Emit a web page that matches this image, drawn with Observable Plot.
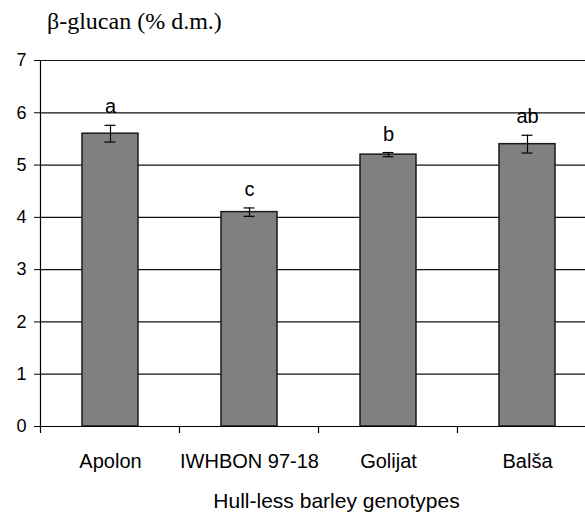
<!DOCTYPE html>
<html><head><meta charset="utf-8">
<script src="https://cdn.jsdelivr.net/npm/d3@7"></script>
<script src="https://cdn.jsdelivr.net/npm/@observablehq/plot@0.6"></script>
<style>
body{margin:0;background:#fff;}
#wrap{position:relative;width:585px;height:512px;overflow:hidden;}
#title{height:40px;position:relative;}
#title span{position:absolute;left:47px;top:9px;font-family:"Liberation Serif","Times New Roman",serif;font-size:24px;line-height:24px;white-space:nowrap;color:#000;}
svg{display:block;}
</style></head>
<body><div id="wrap"><div id="title"><span id="ytitle"></span></div><div id="chart"></div></div>
<script>
const genotypes = ["Apolon", "IWHBON 97-18", "Golijat", "Balša"];
const means = [5.6, 4.1, 5.2, 5.4];
const errors = [0.16, 0.08, 0.04, 0.17];
const letters = ["a", "c", "b", "ab"];
const yTicks = [0, 1, 2, 3, 4, 5, 6, 7];
const xTitle = "Hull-less barley genotypes";
const yTitle = "β-glucan (% d.m.)";

document.getElementById("ytitle").textContent = yTitle;

const data = genotypes.map((g, i) => ({
  g, mean: means[i], lo: means[i] - errors[i], hi: means[i] + errors[i], letter: letters[i]
}));

const plot = Plot.plot({
  width: 585,
  height: 472,
  marginLeft: 40,
  marginRight: 0,
  marginTop: 20,
  marginBottom: 86,
  style: {fontFamily: "'Liberation Sans', Arial, sans-serif", color: "#000", background: "#fff"},
  x: {domain: genotypes, range: [40, 596], paddingInner: 0.6, paddingOuter: 0.3, label: null},
  y: {domain: [0, 7], label: null},
  marks: [
    Plot.ruleY(yTicks.slice(1), {stroke: "#111", strokeWidth: 1.2}),
    Plot.barY(data, {x: "g", y: "mean", fill: "#808080", stroke: "#1a1a1a", strokeWidth: 1.5}),
    Plot.ruleX(data, {x: "g", y1: "lo", y2: "hi", stroke: "#000", strokeWidth: 1.2}),
    Plot.tickY(data, {x: "g", y: "lo", insetLeft: 22.5, insetRight: 22.5, stroke: "#000", strokeWidth: 1.2}),
    Plot.tickY(data, {x: "g", y: "hi", insetLeft: 22.5, insetRight: 22.5, stroke: "#000", strokeWidth: 1.2}),
    Plot.text(data, {x: "g", y: "hi", text: "letter", lineAnchor: "bottom", dy: -12, fontSize: 20, fill: "#000"}),
    Plot.frame({anchor: "left", stroke: "#000", strokeWidth: 1.2}),
    Plot.ruleY([0], {stroke: "#000", strokeWidth: 1.2}),
    Plot.axisY(yTicks, {tickSize: 6, tickPadding: 8, fontSize: 18, label: null, tickFormat: d => String(d)}),
    Plot.axisX({tickSize: 0, tickPadding: 27, fontSize: 20, label: null}),
    Plot.text([xTitle], {text: d => d, frameAnchor: "bottom", lineAnchor: "bottom", dy: 81, dx: 23.5, fontSize: 21, fill: "#000"})
  ]
});

// category boundary ticks below the x axis, from the plot's own scales
const sx = plot.scale("x");
const sy = plot.scale("y");
const off = (sx.step - sx.bandwidth) / 2;
const y0 = sy.apply(0);
d3.select(plot).append("g")
  .attr("stroke", "#000")
  .attr("stroke-width", 1.2)
  .selectAll("line")
  .data(genotypes)
  .join("line")
  .attr("x1", d => sx.apply(d) - off)
  .attr("x2", d => sx.apply(d) - off)
  .attr("y1", y0)
  .attr("y2", y0 + 7);

document.getElementById("chart").appendChild(plot);
</script>
</body></html>
